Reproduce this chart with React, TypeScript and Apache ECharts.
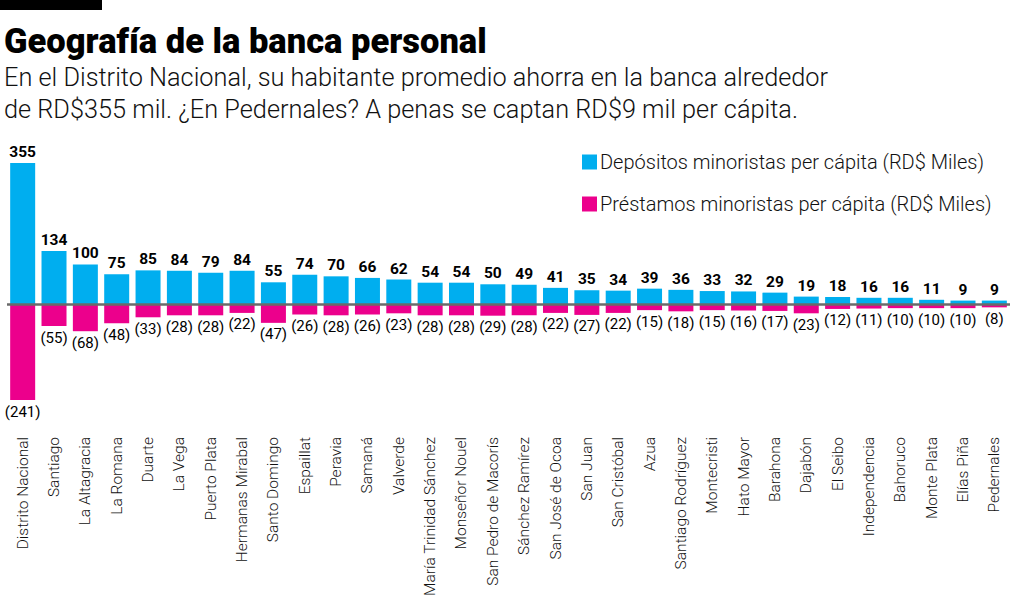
import React, { useEffect, useRef } from "react";
import * as echarts from "echarts";

const provinces = [
  "Distrito Nacional", "Santiago", "La Altagracia", "La Romana", "Duarte", "La Vega",
  "Puerto Plata", "Hermanas Mirabal", "Santo Domingo", "Espaillat", "Peravia", "Samaná",
  "Valverde", "María Trinidad Sánchez", "Monseñor Nouel", "San Pedro de Macorís",
  "Sánchez Ramírez", "San José de Ocoa", "San Juan", "San Cristóbal", "Azua",
  "Santiago Rodríguez", "Montecristi", "Hato Mayor", "Barahona", "Dajabón", "El Seibo",
  "Independencia", "Bahoruco", "Monte Plata", "Elías Piña", "Pedernales",
];

const depositos = [355, 134, 100, 75, 85, 84, 79, 84, 55, 74, 70, 66, 62, 54, 54, 50, 49, 41, 35, 34, 39, 36, 33, 32, 29, 19, 18, 16, 16, 11, 9, 9];
const prestamos = [241, 55, 68, 48, 33, 28, 28, 22, 47, 26, 28, 26, 23, 28, 28, 29, 28, 22, 27, 22, 15, 18, 15, 16, 17, 23, 12, 11, 10, 10, 10, 8];

const seriesNames = [
  "Depósitos minoristas per cápita (RD$ Miles)",
  "Préstamos minoristas per cápita (RD$ Miles)",
];

const title = "Geografía de la banca personal";
const subtitle = [
  "En el Distrito Nacional, su habitante promedio ahorra en la banca alrededor",
  "de RD$355 mil. ¿En Pedernales? A penas se captan RD$9 mil per cápita.",
];

const BLUE = "#00aeef";
const PINK = "#ec008c";
const FONT = "Roboto";

export default function App() {
  const ref = useRef<HTMLDivElement>(null);

  useEffect(() => {
    if (!ref.current) return;
    const chart = echarts.init(ref.current, null, { renderer: "svg" });
    chart.setOption({
      animation: false,
      backgroundColor: "#ffffff",
      textStyle: { fontFamily: FONT },
      graphic: [
        { type: "rect", left: 0, top: 0, shape: { width: 102, height: 10 }, style: { fill: "#000" } },
        {
          type: "text", left: 4, top: 23,
          style: { text: title, fontFamily: FONT, fontWeight: 900, fontSize: 34.5, fill: "#000" },
        },
        {
          type: "text", left: 4, top: 65,
          style: { text: subtitle[0], fontFamily: FONT, fontWeight: 300, fontSize: 25.3, fill: "#111" },
        },
        {
          type: "text", left: 4, top: 97,
          style: { text: subtitle[1], fontFamily: FONT, fontWeight: 300, fontSize: 25.3, fill: "#111" },
        },
      ],
      legend: {
        orient: "vertical",
        left: 577,
        top: 147,
        icon: "rect",
        itemWidth: 15,
        itemHeight: 15,
        itemGap: 22,
        selectedMode: false,
        textStyle: { fontFamily: FONT, fontWeight: 300, fontSize: 20, color: "#111", padding: [0, 0, 0, -2] },
        data: seriesNames,
      },
      grid: { left: 7, right: 14, top: 163, bottom: 211, containLabel: false },
      xAxis: {
        type: "category",
        data: provinces,
        axisLine: { show: false, onZero: false },
        axisTick: { show: false },
        axisLabel: {
          rotate: 90,
          margin: 37,
          interval: 0,
          fontFamily: FONT,
          fontWeight: 300,
          fontSize: 15.5,
          color: "#111",
        },
      },
      yAxis: { type: "value", min: -241, max: 355, show: false, splitLine: { show: false } },
      series: [
        {
          name: seriesNames[0],
          type: "bar",
          stack: "total",
          barWidth: 25,
          itemStyle: { color: BLUE },
          data: depositos,
          label: {
            show: true,
            position: "top",
            distance: 3,
            fontFamily: FONT,
            fontWeight: 700,
            fontSize: 15.5,
            color: "#000",
          },
          markLine: {
            silent: true,
            symbol: ["none", "none"],
            label: { show: false },
            lineStyle: { color: "#6a6a6a", width: 2.5, type: "solid" },
            data: [{ yAxis: 0 }],
            z: 10,
          },
        },
        {
          name: seriesNames[1],
          type: "bar",
          stack: "total",
          barWidth: 25,
          itemStyle: { color: PINK },
          data: prestamos.map((v) => -v),
          label: {
            show: true,
            position: "bottom",
            distance: 4,
            fontFamily: FONT,
            fontWeight: 400,
            fontSize: 15,
            color: "#000",
            formatter: (p: any) => `(${Math.abs(p.value)})`,
          },
        },
      ],
    });
    return () => chart.dispose();
  }, []);

  return (
    <div
      ref={ref}
      style={{ position: "absolute", left: 0, top: 0, width: 1024, height: 611 }}
    />
  );
}
